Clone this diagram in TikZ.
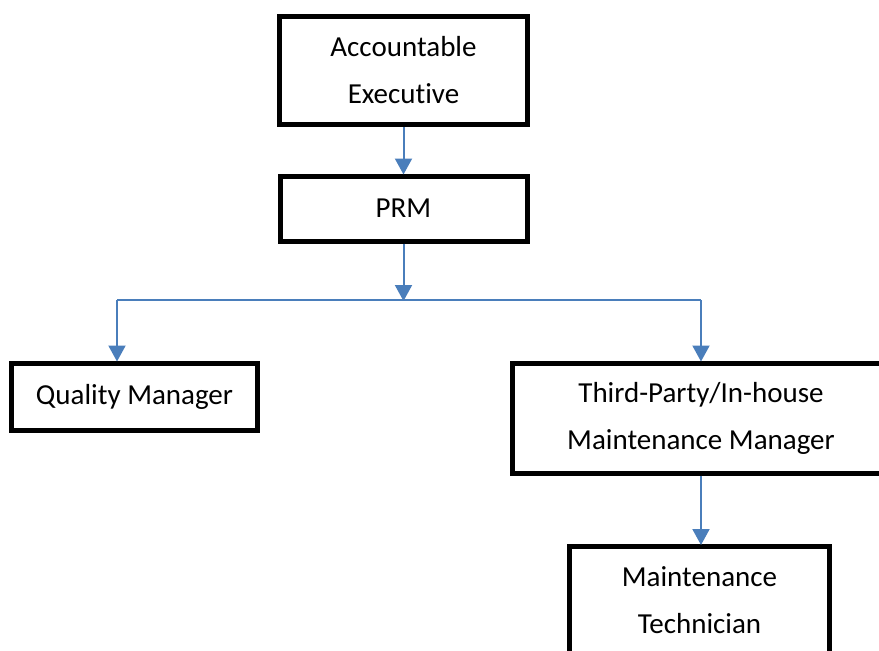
\documentclass[tikz,border=0pt]{standalone}
\usepackage{fontspec}
\setmainfont{Carlito}[Ligatures=NoCommon]
\usetikzlibrary{arrows.meta}
\definecolor{linkblue}{RGB}{74,126,187}
\begin{document}
\begin{tikzpicture}[x=1pt, y=-1pt,
    role/.style={draw, line width=5pt, fill=white, inner sep=0pt, align=center,
        font=\fontsize{29}{47}\selectfont},
    arr/.style={draw=linkblue, line width=2pt, -{Triangle[width=17pt,length=16pt]}, shorten >=-1pt},
    link/.style={draw=linkblue, line width=2pt}]
    \useasboundingbox (0,0) rectangle (879,651);
    \clip (0,0) rectangle (879,651);

    \node[role, minimum width=248pt, minimum height=108pt] (ae) at (403.5,70.5) {Accountable\\Executive};
    \node[role, minimum width=247pt, minimum height=65pt] (prm) at (403.5,208.5) {PRM};
    \node[role, minimum width=246pt, minimum height=67pt] (qm) at (134.5,396.5) {Quality Manager};
    \node[role, minimum width=377pt, minimum height=110pt] (tpmm) at (701,418) {Third-Party/In-house\\Maintenance Manager};
    \node[role, minimum width=260pt, minimum height=108pt] (mt) at (699.5,600.5) {Maintenance\\Technician};

    \coordinate (split) at (403.5,300);
    \coordinate (lft) at (117,300);
    \coordinate (rgt) at (701,300);

    \draw[arr] (ae.south) -- (prm.north);
    \draw[arr] (prm.south) -- (split);
    % branch bar with the two drops
    \draw[link] (lft) -- (rgt);
    \draw[arr] (lft) -- (lft |- qm.north);
    \draw[arr] (rgt) -- (tpmm.north);
    \draw[arr] (tpmm.south) -- (tpmm.south |- mt.north);
\end{tikzpicture}
\end{document}
